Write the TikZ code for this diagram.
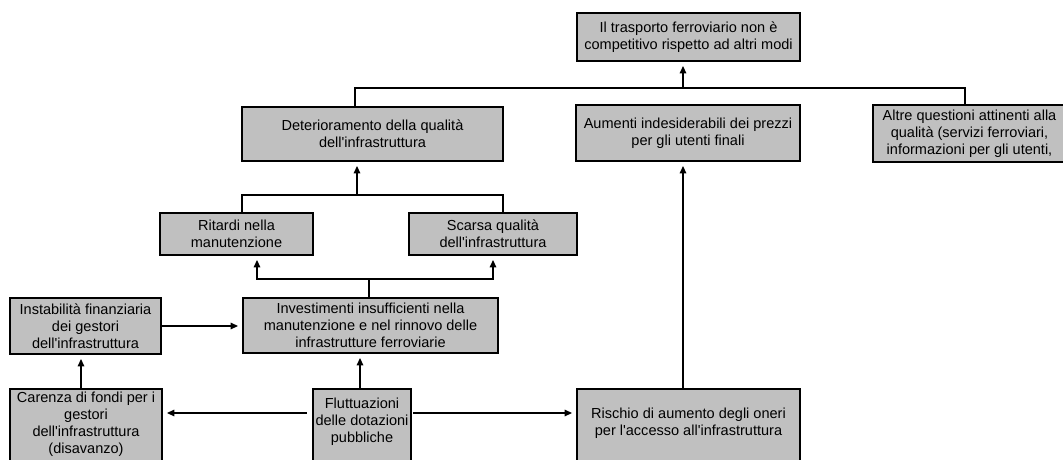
\documentclass[tikz,border=0pt]{standalone}
\usepackage{fontspec}
\setmainfont{Liberation Sans}[Ligatures=TeXOff]
\usetikzlibrary{arrows.meta}
\definecolor{boxgray}{HTML}{C0C0C0}
\tikzset{
  box/.style={draw=black, fill=boxgray, line width=1.6pt, inner xsep=1pt, inner ysep=1pt,
    align=center, font=\fontsize{10.9pt}{12.7pt}\selectfont},
  txt/.style={align=center, inner sep=0pt, font=\fontsize{10.9pt}{12.7pt}\selectfont},
  conn/.style={draw=black, line width=0.8pt},
  arr/.style={conn, -{Triangle[length=5.5pt,width=5pt]}, shorten >=3pt},
}
\begin{document}
\begin{tikzpicture}[x=0.75pt, y=-0.75pt]
\useasboundingbox (0,0) rectangle (1063,460);
\clip (0,0) rectangle (1063,460);
% boxes
\node[box, minimum width=223*0.75pt, minimum height=48*0.75pt] (top) at (688.5,37)
  {Il trasporto ferroviario non è\\competitivo rispetto ad altri modi};
\node[box, minimum width=261*0.75pt, minimum height=54*0.75pt] (deter) at (372.5,134)
  {Deterioramento della qualità\\dell'infrastruttura};
\node[box, minimum width=224*0.75pt, minimum height=56*0.75pt] (aum) at (688,133)
  {Aumenti indesiderabili dei prezzi\\per gli utenti finali};
\node[box, minimum width=193*0.75pt, minimum height=57*0.75pt] (altre) at (969.5,133.5)
  {Altre questioni attinenti alla\\qualità (servizi ferroviari,\\informazioni per gli utenti,};
\node[box, minimum width=153*0.75pt, minimum height=42*0.75pt] (rit) at (236.5,234)
  {Ritardi nella\\manutenzione};
\node[box, minimum width=168*0.75pt, minimum height=42*0.75pt] (scar) at (493,234)
  {Scarsa qualità\\dell'infrastruttura};
\node[box, minimum width=151*0.75pt, minimum height=56*0.75pt] (inst) at (85.5,326)
  {Instabilità finanziaria\\dei gestori\\dell'infrastruttura};
\node[box, minimum width=255*0.75pt, minimum height=55*0.75pt] (inv) at (370.5,325.5)
  {Investimenti insufficienti nella\\manutenzione e nel rinnovo delle\\infrastrutture ferroviarie};
% boxes cut by the lower edge
\node[box, minimum width=152*0.75pt, minimum height=90*0.75pt] (car) at (86,434) {};
\node[txt] (cart) at (86,424)
  {Carenza di fondi per i\\gestori\\dell'infrastruttura\\(disavanzo)};
\node[box, minimum width=98*0.75pt, minimum height=90*0.75pt] (flu) at (362,434) {};
\node[txt] (flut) at (362,421.5)
  {Fluttuazioni\\delle dotazioni\\pubbliche};
\node[box, minimum width=223*0.75pt, minimum height=90*0.75pt] (ris) at (688.5,434) {};
\node[txt] (rist) at (688.5,423)
  {Rischio di aumento degli oneri\\per l'accesso all'infrastruttura};
% junction points
\coordinate (hl) at (355,88);
\coordinate (ht) at (683,88);
\coordinate (hr) at (965,88);
\coordinate (hdl) at (242,195);
\coordinate (hd) at (357,195);
\coordinate (hdr) at (503,195);
\coordinate (hil) at (257,279);
\coordinate (hic) at (369,279);
\coordinate (hir) at (493,279);
\coordinate (vc) at (81,0);
\coordinate (vf) at (360,0);
\coordinate (hf) at (0,413);
% connectors
\draw[conn] (deter.north -| hl) -- (hl) -- (hr) -- (altre.north -| hr);
\draw[arr] (ht) -- (top.south -| ht);
\draw[arr] (ris.north -| ht) -- (aum.south -| ht);
\draw[conn] (rit.north -| hdl) -- (hdl) -- (hdr) -- (scar.north -| hdr);
\draw[arr] (hd) -- (deter.south -| hd);
\draw[conn] (inv.north -| hic) -- (hic);
\draw[arr] (hic) -| (rit.south -| hil);
\draw[arr] (hic) -| (scar.south -| hir);
\draw[arr] (inst.east) -- (inst.east -| inv.west);
\draw[arr] (car.north -| vc) -- (inst.south -| vc);
\draw[arr] (flu.north -| vf) -- (inv.south -| vf);
\draw[arr, shorten <=4pt] (flu.west |- hf) -- (car.east |- hf);
\draw[arr, shorten <=1pt] (flu.east |- hf) -- (ris.west |- hf);
\end{tikzpicture}
\end{document}
